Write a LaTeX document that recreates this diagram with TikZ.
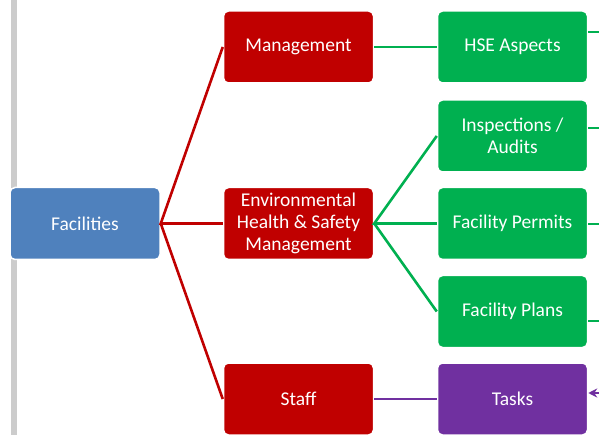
\documentclass[tikz,border=0pt]{standalone}
\usepackage{fontspec}
\setmainfont{Carlito}
\usepackage{xcolor}
\usepackage{tikz}
\usetikzlibrary{arrows.meta}

\definecolor{hseblue}{HTML}{4F81BD}
\definecolor{hsered}{HTML}{C00000}
\definecolor{hsegreen}{HTML}{00B050}
\definecolor{hsepurple}{HTML}{7030A0}

\begin{document}
\begin{tikzpicture}[x=1pt, y=-1pt,
        box/.style={draw=white, line width=1.5pt, rounded corners=5pt, minimum width=150pt, minimum height=72pt, align=center, text=white, font=\fontsize{19.5}{22}\selectfont},
        link/.style={line width=2.6pt}
    ]
        \useasboundingbox (0,0) rectangle (599,435);
        \draw[black!20, line width=6pt] (14,0) -- (14,435);

        \node[box, fill=hseblue] (fac) at (85,223.5) {Facilities};
        \node[box, fill=hsered] (mgmt) at (298.5,47) {Management};
        \node[box, fill=hsered] (ehs) at (298.5,223.5) {Environmental\\Health \& Safety\\Management};
        \node[box, fill=hsered] (staff) at (298.5,399) {Staff};

        \node[box, fill=hsegreen] (aspects) at (512.5,47) {HSE Aspects};
        \node[box, fill=hsegreen] (audits) at (512.5,136) {Inspections /\\Audits};
        \node[box, fill=hsegreen] (permits) at (512.5,223.5) {Facility Permits};
        \node[box, fill=hsegreen] (plans) at (512.5,311.5) {Facility Plans};
        \node[box, fill=hsepurple] (tasks) at (512.5,399) {Tasks};

        \draw[link, hsered] (mgmt.west) -- (fac.east) -- (ehs.west);
        \draw[link, hsered] (fac.east) -- (staff.west);

        \draw[link, hsegreen] (mgmt.east) -- (aspects.west);
        \draw[link, hsegreen] (audits.west) -- (ehs.east) -- (permits.west);
        \draw[link, hsegreen] (ehs.east) -- (plans.west);

        \draw[link, hsepurple] (staff.east) -- (tasks.west);

        % stubs leaving the right edge
        \coordinate (a1) at (599,32);
        \coordinate (a2) at (599,128);
        \coordinate (a3) at (599,224);
        \coordinate (a4) at (599,321);
        \coordinate (a5) at (601,393);
        \draw[hsegreen, line width=2pt] (aspects.east |- a1) -- (a1);
        \draw[hsegreen, line width=2pt] (audits.east |- a2) -- (a2);
        \draw[hsegreen, line width=2pt] (permits.east |- a3) -- (a3);
        \draw[hsegreen, line width=2pt] (plans.east |- a4) -- (a4);
        \draw[hsepurple, line width=2pt, -{Stealth[length=9pt, width=9pt]}] (a5) -- (tasks.east |- a5);
    \end{tikzpicture}
\end{document}
